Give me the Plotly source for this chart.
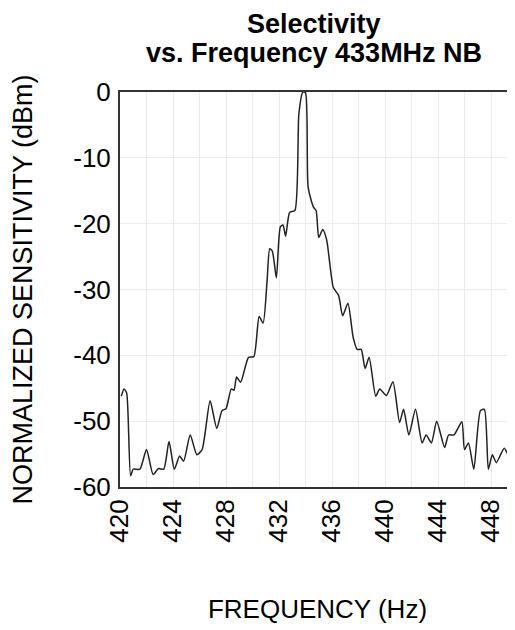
import plotly.graph_objects as go

freq = [420.1, 420.3, 420.5, 420.8, 421.0, 421.5, 422.0, 422.5, 422.9, 423.3, 423.7, 424.1,
        424.5, 424.8, 425.3, 425.8, 426.2, 426.8, 427.3, 427.7, 428.0, 428.4, 428.6, 428.8,
        429.1, 429.7, 430.1, 430.5, 430.8, 431.1, 431.3, 431.5, 431.8, 432.1, 432.3, 432.5,
        432.8, 433.2, 433.5, 433.8, 434.0, 434.2, 434.6, 434.8, 435.0, 435.3, 435.6, 436.1,
        436.5, 436.8, 437.2, 437.6, 437.9, 438.2, 438.5, 438.8, 439.3, 439.6, 440.1, 440.6,
        441.1, 441.4, 441.8, 442.3, 442.8, 443.1, 443.5, 443.9, 444.5, 444.8, 445.2, 445.8,
        446.0, 446.3, 446.7, 447.2, 447.5, 447.8, 448.1, 448.4, 449.0, 449.5, 449.8]
sens = [-46.2, -45.1, -45.7, -58.3, -57.3, -57.3, -54.3, -58.1, -57.2, -57.3, -53.1, -57.3,
        -55.3, -56.1, -52.1, -55.1, -54.3, -46.9, -51.1, -48.4, -48.1, -45.1, -45.3, -43.3,
        -44.1, -40.3, -40.2, -34.1, -35.1, -28.7, -23.8, -24.2, -28.2, -20.5, -20.2, -21.9,
        -18.3, -18.0, -3.3, 0.0, -0.1, -14.5, -17.5, -18.0, -22.1, -20.9, -22.5, -29.7,
        -30.9, -34.0, -32.1, -37.3, -39.1, -39.1, -42.0, -40.3, -46.2, -45.1, -46.1, -44.0,
        -50.2, -48.2, -52.1, -48.2, -53.3, -52.1, -53.3, -50.0, -54.0, -52.1, -52.1, -50.1,
        -54.3, -53.3, -57.3, -48.4, -48.2, -57.3, -55.1, -56.3, -54.1, -56.1, -56.6]

x_ticks = [420, 424, 428, 432, 436, 440, 444, 448]
y_ticks = [0, -10, -20, -30, -40, -50, -60]
y_tick_labels = ["0", "-10", "-20", "-30", "-40", "-50", "-60"]
title_lines = ["Selectivity", "vs. Frequency 433MHz NB"]

FONT = "Liberation Sans, Arial, sans-serif"

fig = go.Figure()
fig.add_trace(go.Scatter(x=freq, y=sens, mode="lines",
                         line=dict(color="#222222", width=1.5, shape="spline", smoothing=0.6),
                         showlegend=False, hoverinfo="skip"))

# title as two annotations (tight line spacing like the reference)
fig.add_annotation(text="<b>" + title_lines[0] + "</b>", xref="paper", yref="paper",
                   x=0.49, y=1.1722, xanchor="center", yanchor="middle", showarrow=False,
                   font=dict(family=FONT, size=27, color="black"))
fig.add_annotation(text="<b>" + title_lines[1] + "</b>", xref="paper", yref="paper",
                   x=0.49, y=1.0987, xanchor="center", yanchor="middle", showarrow=False,
                   font=dict(family=FONT, size=27, color="black"))

fig.update_layout(
    width=507, height=622,
    margin=dict(l=112, r=0, t=84, b=143),
    paper_bgcolor="white", plot_bgcolor="white",
    font=dict(family=FONT, color="black", size=26),
    xaxis=dict(range=[420, 449.81], tickvals=x_ticks, tickangle=-90, automargin=False,
               showline=True, linecolor="#333333", linewidth=2, mirror=True,
               showgrid=False, ticks="", zeroline=False,
               minor=dict(dtick=2, showgrid=True, gridcolor="#ececec", gridwidth=1),
               tickfont=dict(size=26),
               title=dict(text="FREQUENCY (Hz)", font=dict(size=26), standoff=58)),
    yaxis=dict(range=[-60, 0], tickvals=y_ticks, ticktext=y_tick_labels, automargin=False,
               showline=True, linecolor="#333333", linewidth=2, mirror=False,
               showgrid=True, gridcolor="#ececec", gridwidth=1,
               ticks="outside", ticklen=2, tickcolor="rgba(0,0,0,0)", zeroline=False,
               tickfont=dict(size=26),
               title=dict(text="NORMALIZED SENSITIVITY (dBm)", font=dict(size=27), standoff=33)),
)

fig.write_html("out.html")
